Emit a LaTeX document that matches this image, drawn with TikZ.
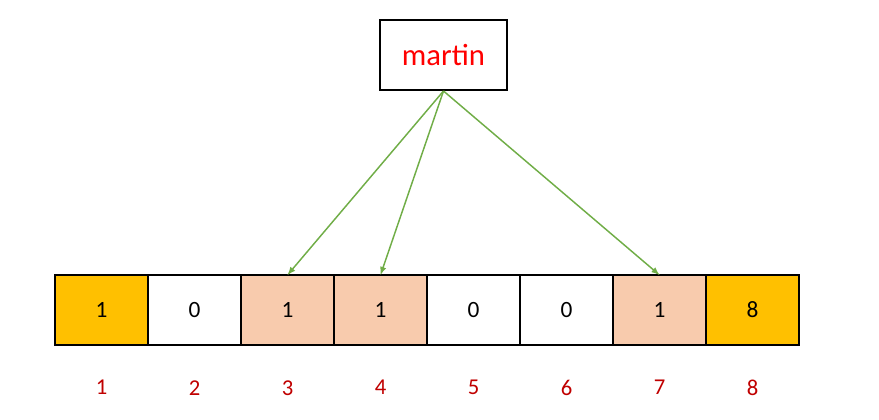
\documentclass[tikz,border=0pt]{standalone}
\usepackage{fontspec}
\setmainfont{Carlito}
\usetikzlibrary{positioning}
\definecolor{gold}{HTML}{FFC000}
\definecolor{peach}{HTML}{F8CBAD}
\definecolor{leaf}{HTML}{70AD47}
\definecolor{darkred}{HTML}{C00000}

\begin{document}
\begin{tikzpicture}[
x=0.75pt, y=-0.75pt,
word/.style={rectangle, draw=black, line width=1.5pt, minimum width=95pt, minimum height=52.5pt, text=red, font=\fontsize{23}{26}\selectfont},
cell/.style={rectangle, draw=black, line width=1.4pt, outer sep=0pt, minimum width=69.75pt, minimum height=52.5pt, font=\fontsize{17.5}{20}\selectfont},
idx/.style={text=darkred, font=\fontsize{17}{20}\selectfont},
]
\useasboundingbox (0,0) rectangle (879,420);

\node[word] (martin) at (443.5,55) {martin};

\node[cell, fill=gold] (c1) at (101.5,310) {1};
\node[cell] (c2) [right=0pt of c1] {0};
\node[cell, fill=peach] (c3) [right=0pt of c2] {1};
\node[cell, fill=peach] (c4) [right=0pt of c3] {1};
\node[cell] (c5) [right=0pt of c4] {0};
\node[cell] (c6) [right=0pt of c5] {0};
\node[cell, fill=peach] (c7) [right=0pt of c6] {1};
\node[cell, fill=gold] (c8) [right=0pt of c7] {8};

\node[idx] (i1) [below=23pt of c1] {1};
\node[idx] (i2) [below=23pt of c2] {2};
\node[idx] (i3) [below=23pt of c3] {3};
\node[idx] (i4) [below=23pt of c4] {4};
\node[idx] (i5) [below=23pt of c5] {5};
\node[idx] (i6) [below=23pt of c6] {6};
\node[idx] (i7) [below=23pt of c7] {7};
\node[idx] (i8) [below=23pt of c8] {8};

\draw[leaf, line width=1.1pt, -latex] (martin.south) -- (c3.north);
\draw[leaf, line width=1.1pt, -latex] (martin.south) -- (c4.north);
\draw[leaf, line width=1.1pt, -latex] (martin.south) -- (c7.north);
\end{tikzpicture}
\end{document}
